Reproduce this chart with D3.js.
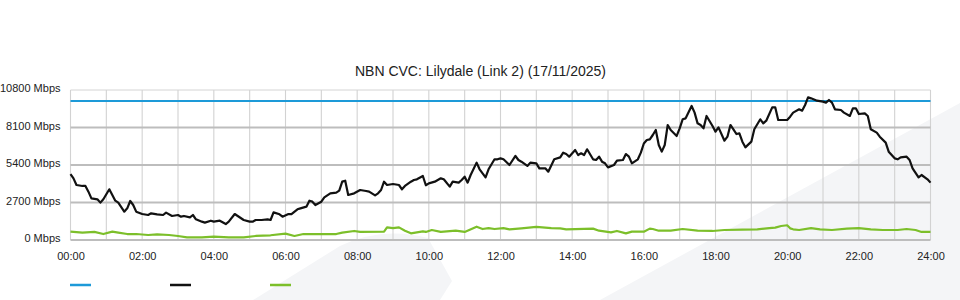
<!DOCTYPE html>
<html>
<head>
<meta charset="utf-8">
<script src="https://cdnjs.cloudflare.com/ajax/libs/d3/7.8.5/d3.min.js"></script>
<style>
  body { margin: 0; background: #fff; }
  svg { display: block; font-family: "Liberation Sans", Arial, sans-serif; }
</style>
</head>
<body>
<div id="chart"></div>
<script>
// chart text
var title = "NBN CVC: Lilydale (Link 2) (17/11/2025)";
var yTicks = [0, 2700, 5400, 8100, 10800];
var xTickLabels = ["00:00","02:00","04:00","06:00","08:00","10:00","12:00","14:00","16:00","18:00","20:00","22:00","24:00"];

// capacity (blue), minutes of day
var capTimes = [0, 1440];
var capValues = [10000, 10000];

// traffic (black), minutes of day / Mbps
var inTimes = [0,5,10,20,25,30,35,45,50,55,65,70,75,80,90,95,100,105,110,120,130,135,145,155,160,170,180,185,190,200,205,210,220,225,235,240,
  250,260,265,275,280,290,300,305,310,320,330,335,340,350,355,365,370,380,385,395,400,405,410,420,425,435,445,450,455,460,465,475,485,
  495,500,510,515,520,525,530,540,550,555,560,570,575,580,590,595,600,610,620,625,635,640,650,655,660,665,670,680,685,695,700,710,715,720,725,
  735,745,750,755,765,770,780,785,795,800,810,820,825,830,835,845,850,855,860,865,875,880,885,890,895,900,910,915,925,930,935,940,950,955,960,965,970,
  975,980,985,990,995,1000,1005,1015,1020,1025,1030,1040,1045,1050,1055,1060,1065,1075,1080,1085,1095,1100,1105,1110,1115,1120,1125,1130,1140,1145,
  1155,1160,1165,1175,1180,1185,1195,1200,1205,1210,1220,1225,1230,1235,1240,1250,1260,1265,1270,1275,1280,1290,1295,1305,1310,1315,1320,1330,1335,
  1340,1350,1355,1365,1370,1380,1385,1390,1400,1405,1410,1420,1425,1435,1440];
var inValues = [4750,4440,3960,3890,3890,3480,3000,2930,2690,2930,3650,3240,2830,2690,2040,2280,2810,2520,2040,1870,1800,1920,1850,1800,1970,1730,1800,1680,1730,1630,1800,1490,1320,1250,1390,1320,
  1390,1150,1320,1870,1730,1440,1320,1320,1440,1440,1490,1440,1990,1850,1680,1870,1870,2210,2280,2400,2830,2760,2520,2760,3070,3360,3410,3550,4200,4270,3240,3360,3600,
  3530,3480,3210,3360,3600,4200,3960,4030,3960,3650,3890,4200,4320,4370,4610,3940,4080,4200,4440,4370,3840,4200,4130,4320,4560,4130,4680,5570,5090,4510,5090,5810,5810,5880,5810,
  5400,6050,5760,5640,5330,5570,5520,5160,5160,4920,5810,5950,6290,6190,6000,6480,6120,6240,6120,6530,5810,5760,6000,5640,5520,5230,5400,5710,5760,6190,6000,5520,5810,6290,6950,7200,7250,
  7560,7920,6840,6360,6840,8280,7920,7490,8040,8690,8760,9650,9170,8400,8280,8040,8930,8210,7800,8110,7150,7440,8280,7970,7630,7680,7080,6670,7080,7970,
  8690,8400,8590,9550,9550,8640,8640,8640,8880,9170,9410,9310,9720,10270,10200,10030,9960,9890,10080,9890,9410,9360,9170,8930,9480,9480,9070,9120,8930,
  7970,7730,7440,7010,6360,5880,5810,5950,6000,5760,5160,4510,4680,4370,4130];

// traffic (green), minutes of day / Mbps
var outTimes = [0,20,40,55,70,80,95,110,130,145,165,180,195,220,240,265,290,310,335,360,375,390,430,445,455,475,485,525,530,540,550,560,570,590,595,605,620,645,660,
  680,690,700,710,725,735,755,780,805,820,830,875,885,905,915,930,940,960,970,975,985,1005,1025,1050,1075,1095,1125,1150,1170,1180,1190,1200,1205,1210,
  1220,1240,1255,1275,1300,1320,1340,1360,1385,1400,1415,1425,1440];
var outValues = [600,530,580,430,600,530,430,430,360,410,360,290,190,190,240,190,190,290,340,460,290,430,430,430,530,650,580,600,910,860,910,670,480,620,580,720,580,670,580,
  960,790,860,790,860,770,840,940,860,840,770,820,670,550,650,480,600,600,820,790,670,670,790,670,650,720,740,770,860,890,1010,1060,840,770,
  720,860,770,720,820,860,770,720,720,790,720,580,580];

var width = 960, height = 300;

var svg = d3.select("#chart").append("svg")
    .attr("width", width)
    .attr("height", height);

// faint logo watermark behind everything
svg.append("path")
    .attr("d", "M253,300 L340,246 Q382,226 428,238 L452,281 L440,300 Z")
    .style("fill", "#f4f5f7");
svg.append("path")
    .attr("d", "M600,300 L960,103 L960,300 Z")
    .style("fill", "#f4f5f7");

var x = d3.scaleLinear().domain([0, 1440]).range([70.5, 930.5]);
var y = d3.scaleLinear().domain([0, 10800]).range([240, 90]);

//title
svg.append("text")
    .attr("x", 480.5)
    .attr("y", 76)
    .attr("text-anchor", "middle")
    .style("font-size", "14px")
    .style("fill", "#222")
    .text(title);

//vertical grid, one per hour
svg.append("g")
    .attr("class", "x-grid")
  .selectAll("line")
    .data(d3.range(0, 1441, 60))
    .enter().append("line")
    .attr("x1", function(d) { return x(d); })
    .attr("x2", function(d) { return x(d); })
    .attr("y1", y(10800))
    .attr("y2", y(0))
    .style("stroke", "#d2d2d2")
    .style("stroke-width", 1.1);

//horizontal grid
svg.append("g")
    .attr("class", "y-grid")
  .selectAll("line")
    .data(yTicks)
    .enter().append("line")
    .attr("x1", x(0))
    .attr("x2", x(1440))
    .attr("y1", function(d) { return y(d); })
    .attr("y2", function(d) { return y(d); })
    .style("stroke", function(d) { return d === 10800 ? "#d4d4d4" : "#bdbdbd"; })
    .style("stroke-width", function(d) { return d === 10800 ? 1 : 2; });

//y axis labels
var yAxis = d3.axisLeft(y)
    .tickValues(yTicks)
    .tickSize(0)
    .tickPadding(10)
    .tickFormat(function(d) { return d + " Mbps"; });
svg.append("g")
    .attr("class", "y axis")
    .attr("transform", "translate(" + x(0) + ",0)")
    .call(yAxis)
    .call(function(g) { g.select(".domain").remove(); })
  .selectAll("text")
    .attr("dy", "0.15em")
    .style("font-size", "11px")
    .style("fill", "#222")
    .style("font-family", "'Liberation Sans', Arial, sans-serif");

//x axis labels
var xAxis = d3.axisBottom(x)
    .tickValues(d3.range(0, 1441, 120))
    .tickSize(0)
    .tickPadding(12)
    .tickFormat(function(d, i) { return xTickLabels[i]; });
svg.append("g")
    .attr("class", "x axis")
    .attr("transform", "translate(0," + y(0) + ")")
    .call(xAxis)
    .call(function(g) { g.select(".domain").remove(); })
  .selectAll("text")
    .style("font-size", "11px")
    .style("fill", "#222")
    .style("font-family", "'Liberation Sans', Arial, sans-serif");

function series(times, values) {
  return times.map(function(t, i) { return {t: t, v: values[i]}; });
}

var line = d3.line()
    .x(function(d) { return x(d.t); })
    .y(function(d) { return y(d.v); });

svg.append("path")
    .datum(series(outTimes, outValues))
    .attr("d", line)
    .style("fill", "none")
    .style("stroke", "#7cbf2a")
    .style("stroke-width", 2.2)
    .style("stroke-linejoin", "round");

svg.append("path")
    .datum(series(capTimes, capValues))
    .attr("d", line)
    .style("fill", "none")
    .style("stroke", "#1d9ad8")
    .style("stroke-width", 2);

svg.append("path")
    .datum(series(inTimes, inValues))
    .attr("d", line)
    .style("fill", "none")
    .style("stroke", "#111")
    .style("stroke-width", 2.2)
    .style("stroke-linejoin", "round");

//legend swatches (no labels in the original)
var legendColors = ["#1d9ad8", "#111", "#7cbf2a"];
svg.append("g")
    .attr("class", "legend")
  .selectAll("line")
    .data(legendColors)
    .enter().append("line")
    .attr("x1", function(d, i) { return 70 + i * 100; })
    .attr("x2", function(d, i) { return 91 + i * 100; })
    .attr("y1", 285)
    .attr("y2", 285)
    .style("stroke", function(d) { return d; })
    .style("stroke-width", 2.5);
</script>
</body>
</html>
